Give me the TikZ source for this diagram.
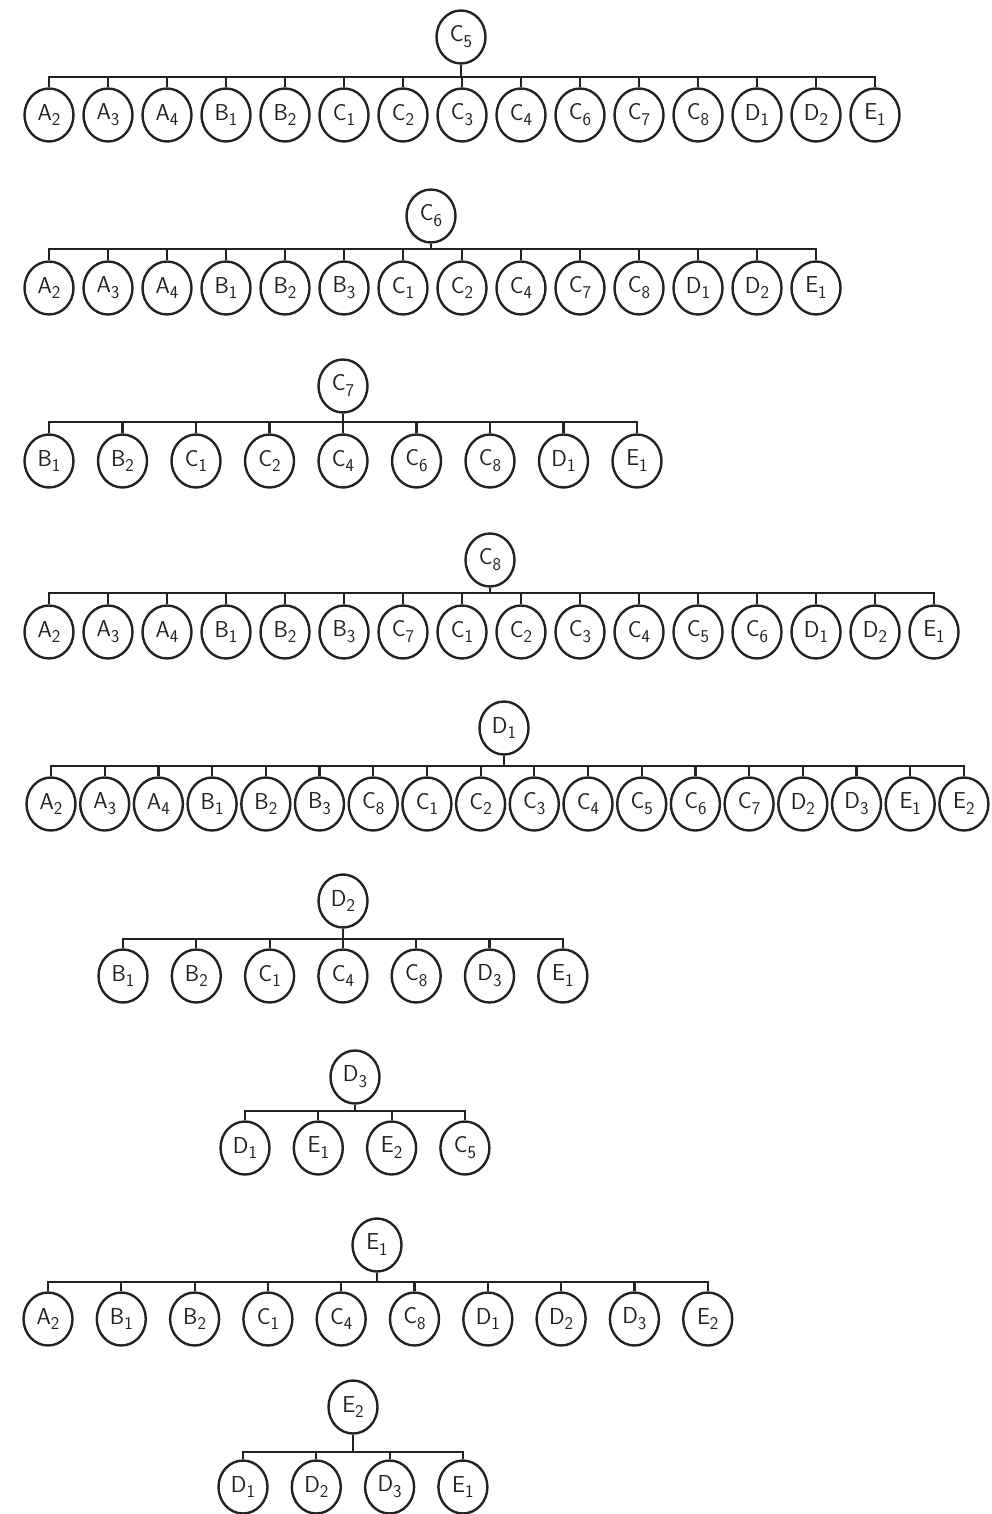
\documentclass[tikz,border=0pt]{standalone}
\usepackage{xcolor}
\usetikzlibrary{shapes.geometric}
\definecolor{ink}{HTML}{222222}
\newcommand{\vname}[2]{#1\raisebox{-0.6ex}{\fontsize{18}{18}\selectfont #2}}

\begin{document}
\begin{tikzpicture}[
    x=1pt, y=-1pt,
    vnode/.style={ellipse, draw=ink, line width=2.4pt, fill=white,
                  minimum width=49pt, minimum height=53pt, inner sep=0pt,
                  text=ink, font=\sffamily\fontsize{23}{25}\selectfont},
    link/.style={draw=ink, line width=2.2pt}
]
\useasboundingbox (0,0) rectangle (991,1514);

% =========================================================
% TREE 1: C5
% =========================================================
\coordinate (barA) at (0,77);
\node[vnode] (rootA) at (461,37) {\vname{C}{5}};
\foreach \l/\s [count=\i] in {A/2,A/3,A/4,B/1,B/2,C/1,C/2,C/3,C/4,C/6,C/7,C/8,D/1,D/2,E/1}
{
  \node[vnode] (kidA\i) at ({49+59*(\i-1)},115) {\vname{\l}{\s}};
  \draw[link] (rootA.south) -- (rootA.south |- barA) -| (kidA\i.north);
}

% =========================================================
% TREE 2: C6
% =========================================================
\coordinate (barB) at (0,249);
\node[vnode] (rootB) at (431,216) {\vname{C}{6}};
\foreach \l/\s [count=\i] in {A/2,A/3,A/4,B/1,B/2,B/3,C/1,C/2,C/4,C/7,C/8,D/1,D/2,E/1}
{
  \node[vnode] (kidB\i) at ({49+59*(\i-1)},288) {\vname{\l}{\s}};
  \draw[link] (rootB.south) -- (rootB.south |- barB) -| (kidB\i.north);
}

% =========================================================
% TREE 3: C7
% =========================================================
\coordinate (barC) at (0,422);
\node[vnode] (rootC) at (343,386) {\vname{C}{7}};
\foreach \l/\s [count=\i] in {B/1,B/2,C/1,C/2,C/4,C/6,C/8,D/1,E/1}
{
  \node[vnode] (kidC\i) at ({49+73.5*(\i-1)},461) {\vname{\l}{\s}};
  \draw[link] (rootC.south) -- (rootC.south |- barC) -| (kidC\i.north);
}

% =========================================================
% TREE 4: C8
% =========================================================
\coordinate (barD) at (0,593);
\node[vnode] (rootD) at (490,560) {\vname{C}{8}};
\foreach \l/\s [count=\i] in {A/2,A/3,A/4,B/1,B/2,B/3,C/7,C/1,C/2,C/3,C/4,C/5,C/6,D/1,D/2,E/1}
{
  \node[vnode] (kidD\i) at ({49+59*(\i-1)},632) {\vname{\l}{\s}};
  \draw[link] (rootD.south) -- (rootD.south |- barD) -| (kidD\i.north);
}

% =========================================================
% TREE 5: D1
% =========================================================
\coordinate (barE) at (0,766);
\node[vnode] (rootE) at (504,728) {\vname{D}{1}};
\foreach \l/\s [count=\i] in {A/2,A/3,A/4,B/1,B/2,B/3,C/8,C/1,C/2,C/3,C/4,C/5,C/6,C/7,D/2,D/3,E/1,E/2}
{
  \node[vnode] (kidE\i) at ({51+53.7*(\i-1)},804) {\vname{\l}{\s}};
  \draw[link] (rootE.south) -- (rootE.south |- barE) -| (kidE\i.north);
}

% =========================================================
% TREE 6: D2
% =========================================================
\coordinate (barF) at (0,939);
\node[vnode] (rootF) at (343,901) {\vname{D}{2}};
\foreach \l/\s [count=\i] in {B/1,B/2,C/1,C/4,C/8,D/3,E/1}
{
  \node[vnode] (kidF\i) at ({123+73.3*(\i-1)},976) {\vname{\l}{\s}};
  \draw[link] (rootF.south) -- (rootF.south |- barF) -| (kidF\i.north);
}

% =========================================================
% TREE 7: D3
% =========================================================
\coordinate (barG) at (0,1111);
\node[vnode] (rootG) at (355,1077) {\vname{D}{3}};
\foreach \l/\s [count=\i] in {D/1,E/1,E/2,C/5}
{
  \node[vnode] (kidG\i) at ({245+73.3*(\i-1)},1148) {\vname{\l}{\s}};
  \draw[link] (rootG.south) -- (rootG.south |- barG) -| (kidG\i.north);
}

% =========================================================
% TREE 8: E1
% =========================================================
\coordinate (barH) at (0,1282);
\node[vnode] (rootH) at (377,1245) {\vname{E}{1}};
\foreach \l/\s [count=\i] in {A/2,B/1,B/2,C/1,C/4,C/8,D/1,D/2,D/3,E/2}
{
  \node[vnode] (kidH\i) at ({48+73.3*(\i-1)},1319) {\vname{\l}{\s}};
  \draw[link] (rootH.south) -- (rootH.south |- barH) -| (kidH\i.north);
}

% =========================================================
% TREE 9: E2
% =========================================================
\coordinate (barI) at (0,1452);
\node[vnode] (rootI) at (353,1407) {\vname{E}{2}};
\foreach \l/\s [count=\i] in {D/1,D/2,D/3,E/1}
{
  \node[vnode] (kidI\i) at ({243+73.3*(\i-1)},1487) {\vname{\l}{\s}};
  \draw[link] (rootI.south) -- (rootI.south |- barI) -| (kidI\i.north);
}

\end{tikzpicture}
\end{document}
